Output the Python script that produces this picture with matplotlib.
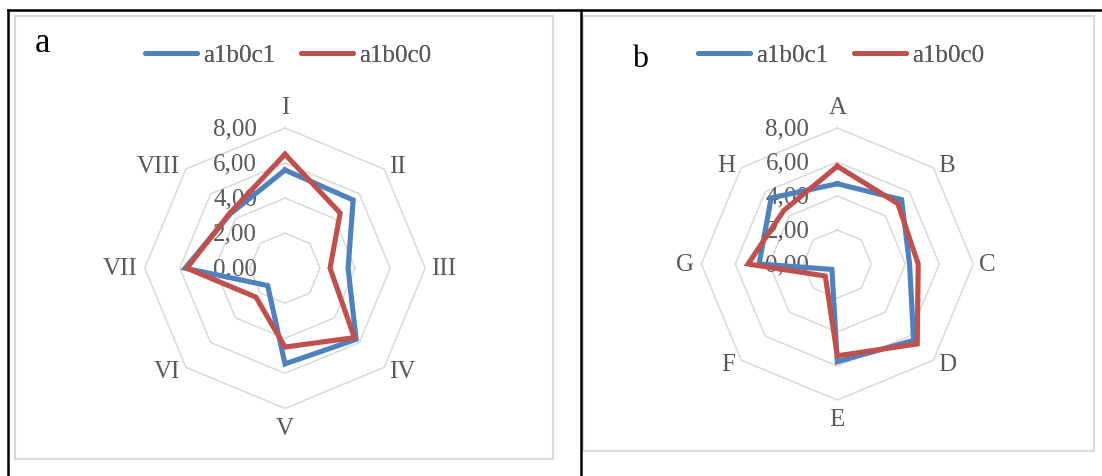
import numpy as np
from matplotlib import pyplot as plt
from matplotlib.lines import Line2D
from matplotlib.patches import Rectangle

# data
cats_a = ['I', 'II', 'III', 'IV', 'V', 'VI', 'VII', 'VIII']
a1b0c1_a = [5.6, 5.5, 3.6, 5.74, 5.46, 1.4, 5.7, 4.4]
a1b0c0_a = [6.5, 4.45, 2.57, 5.6, 4.5, 2.34, 5.6, 4.45]

cats_b = ['A', 'B', 'C', 'D', 'E', 'F', 'G', 'H']
a1b0c1_b = [4.72, 5.35, 4.25, 6.35, 5.75, 0.45, 4.6, 5.5]
a1b0c0_b = [5.75, 5.03, 4.76, 6.65, 5.4, 1.0, 5.25, 4.45]

ticks = [0, 2, 4, 6, 8]
names = ['a1b0c1', 'a1b0c0']

W, H = 1102, 477
BLUE = '#4F81BD'
RED = '#C0504D'
GRID = '#D9D9D9'
TXT = '#595959'
FONT = 'Liberation Serif'
FS = 18

fig = plt.figure(figsize=(W / 100, H / 100), dpi=100)


def px_rect(cx, cy, r):
    return [(cx - r) / W, (H - cy - r) / H, 2 * r / W, 2 * r / H]


def radar(cx, cy, r, cats, v1, v0):
    ax = fig.add_axes(px_rect(cx, cy, r), projection='polar')
    ax.set_theta_zero_location('N')
    ax.set_theta_direction(-1)
    ax.set_ylim(0, ticks[-1])
    ax.grid(False)
    ax.set_xticks([])
    ax.set_yticks([])
    ax.spines['polar'].set_visible(False)
    ax.patch.set_visible(False)

    n = len(cats)
    th = np.linspace(0, 2 * np.pi, n, endpoint=False)
    th_c = np.append(th, th[0])

    # octagon grid rings
    for t in ticks[1:]:
        ax.plot(th_c, [t] * (n + 1), color=GRID, lw=1.1, clip_on=False, zorder=1)

    for vals, col in ((v1, BLUE), (v0, RED)):
        ax.plot(th_c, list(vals) + [vals[0]], color=col, lw=3.7,
                solid_joinstyle='miter', clip_on=False, zorder=3)

    # value labels along the top spoke
    for t in ticks:
        ax.annotate(f'{t:.2f}'.replace('.', ','), (0, t), xytext=(-28, 0),
                    textcoords='offset pixels', ha='right', va='center',
                    fontsize=FS, color=TXT, family=FONT, zorder=2)

    offs = [(0, 21, 'center'), (5, 3, 'left'), (6, 0, 'left'), (5, -4, 'left'),
            (0, -19.5, 'center'), (-6, -4, 'right'), (-7, 0, 'right'), (-6, 3, 'right')]
    for ang, lab, (dx, dy, ha) in zip(th, cats, offs):
        ax.annotate(lab, (ang, ticks[-1]), xytext=(dx, dy), textcoords='offset pixels',
                    ha=ha, va='center', fontsize=FS, color=TXT, family=FONT)
    return ax


radar(285, 269.2, 140.2, cats_a, a1b0c1_a, a1b0c0_a)
radar(837.3, 265, 136, cats_b, a1b0c1_b, a1b0c0_b)

handles = [Line2D([], [], color=BLUE, lw=3.5, solid_capstyle='round'),
           Line2D([], [], color=RED, lw=3.5, solid_capstyle='round')]
for xc in (288, 841):
    leg = fig.legend(handles, names, loc='center', bbox_to_anchor=(xc / W, 1 - 56 / H),
                     ncol=2, frameon=False, handlelength=2.08, handletextpad=0.24,
                     columnspacing=1.04, prop={'family': FONT, 'size': FS})
    for t in leg.get_texts():
        t.set_color(TXT)
    fig.add_artist(leg)

fig.text(42 / W, 1 - 52.3 / H, 'a', ha='center', va='baseline', fontsize=25, family=FONT)
fig.text(640.5 / W, 1 - 66.7 / H, 'b', ha='center', va='baseline', fontsize=23, family=FONT)

# chart area borders (grey) and table lines (black)
for x0, y0, x1, y1 in ((15.3, 17.3, 553, 460), (582.5, 17.3, 1094, 451.7)):
    fig.add_artist(Rectangle((x0 / W, 1 - y1 / H), (x1 - x0) / W, (y1 - y0) / H,
                             transform=fig.transFigure, fill=False, ec=GRID, lw=1.5))

for xs, ys in (((8, W), (11, 11)), ((8, 8), (11, H)), ((580.7, 580.7), (11, H))):
    fig.add_artist(Line2D([x / W for x in xs], [1 - y / H for y in ys],
                          transform=fig.transFigure, color='black', lw=1.8))

fig.savefig('out.png', dpi=100)
